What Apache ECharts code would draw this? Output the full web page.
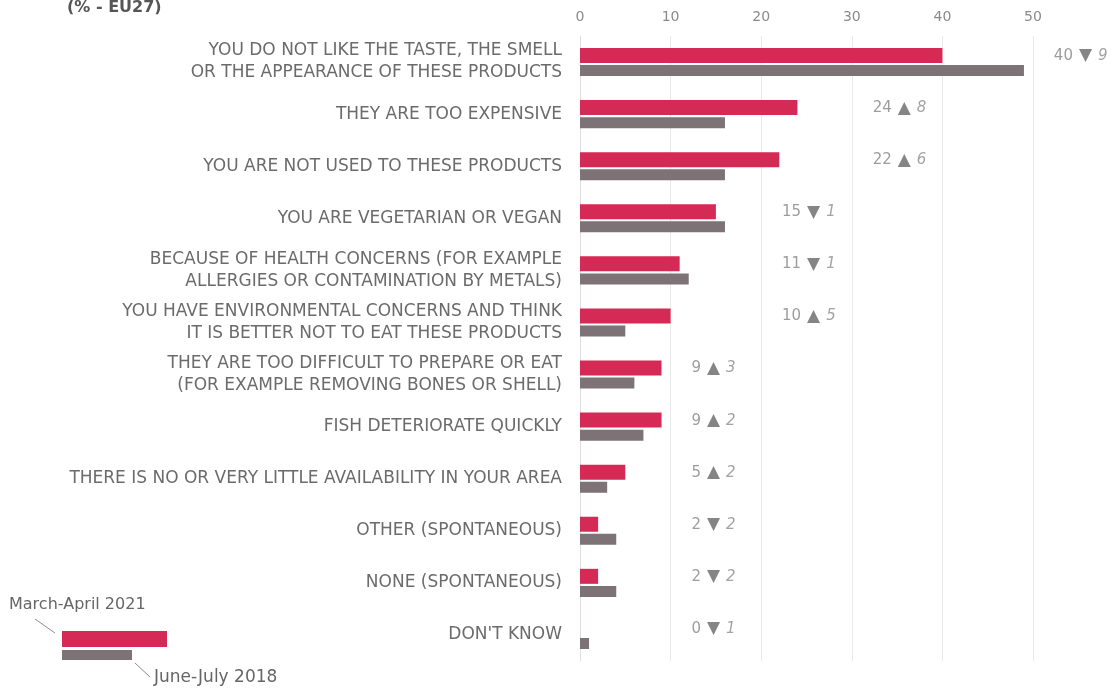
<!DOCTYPE html>
<html>
<head>
<meta charset="utf-8">
<title>Reasons for not eating fish</title>
<script src="https://cdn.jsdelivr.net/npm/echarts@6/dist/echarts.min.js"></script>
<style>
  html, body { margin: 0; padding: 0; background: #fff; }
  #chart { width: 1111px; height: 690px; }
</style>
</head>
<body>
<div id="chart"></div>
<script>
// Reasons, listed top to bottom
const categories = [
  'YOU DO NOT LIKE THE TASTE, THE SMELL\nOR THE APPEARANCE OF THESE PRODUCTS',
  'THEY ARE TOO EXPENSIVE',
  'YOU ARE NOT USED TO THESE PRODUCTS',
  'YOU ARE VEGETARIAN OR VEGAN',
  'BECAUSE OF HEALTH CONCERNS (FOR EXAMPLE\nALLERGIES OR CONTAMINATION BY METALS)',
  'YOU HAVE ENVIRONMENTAL CONCERNS AND THINK\nIT IS BETTER NOT TO EAT THESE PRODUCTS',
  'THEY ARE TOO DIFFICULT TO PREPARE OR EAT\n(FOR EXAMPLE REMOVING BONES OR SHELL)',
  'FISH DETERIORATE QUICKLY',
  'THERE IS NO OR VERY LITTLE AVAILABILITY IN YOUR AREA',
  'OTHER (SPONTANEOUS)',
  'NONE (SPONTANEOUS)',
  "DON'T KNOW"
];

// Shares in % (EU27)
const wave2021 = [40, 24, 22, 15, 11, 10, 9, 9, 5, 2, 2, 0];
const wave2018 = [49, 16, 16, 16, 12, 5, 6, 7, 3, 4, 4, 1];

// Change in percentage points since 2018 (positive = up)
const change = [-9, 8, 6, -1, -1, 5, 3, 2, 2, -2, -2, -1];

const xTicks = [0, 10, 20, 30, 40, 50];

const RED = '#d42a55';
const GREY = '#7d7377';
const FONT = '"DejaVu Sans", "Open Sans", sans-serif';

// Each annotation sits just inside the grid cell that follows the longer bar
const notePoints = categories.map((c, i) => {
  const longest = Math.max(wave2021[i], wave2018[i]);
  const cellStart = (Math.floor(longest / 10) + 1) * 10;
  return {
    value: [cellStart + 2.3, i],
    v: wave2021[i],
    d: change[i]
  };
});

const chart = echarts.init(document.getElementById('chart'));

chart.setOption({
  backgroundColor: '#ffffff',
  animation: false,
  textStyle: { fontFamily: FONT },
  grid: { left: 580, right: 78, top: 36, bottom: 29, containLabel: false },
  xAxis: {
    type: 'value',
    position: 'top',
    min: xTicks[0],
    max: xTicks[xTicks.length - 1],
    interval: 10,
    axisLine: { show: false },
    axisTick: { show: false },
    axisLabel: { color: '#8a8a8a', fontSize: 14, margin: 12, fontFamily: FONT },
    splitLine: { show: true, lineStyle: { color: '#e9e9e9', width: 1 } }
  },
  yAxis: {
    type: 'category',
    inverse: true,
    data: categories,
    axisLine: { show: true, lineStyle: { color: '#e3dcdd', width: 1 } },
    axisTick: { show: false },
    axisLabel: {
      color: '#6b6b6b',
      fontSize: 17,
      lineHeight: 22,
      margin: 18,
      align: 'right',
      fontFamily: FONT
    }
  },
  series: [
    {
      name: 'March-April 2021',
      type: 'bar',
      data: wave2021,
      barWidth: 15,
      barGap: '14%',
      itemStyle: { color: RED },
      silent: true
    },
    {
      name: 'June-July 2018',
      type: 'bar',
      data: wave2018,
      barWidth: 11,
      barGap: '14%',
      itemStyle: { color: GREY },
      silent: true
    },
    {
      name: 'notes',
      type: 'scatter',
      data: notePoints,
      symbolSize: 0,
      clip: false,
      silent: true,
      label: {
        show: true,
        position: 'right',
        distance: 0,
        offset: [0, -6],
        fontFamily: FONT,
        formatter: (p) => {
          const d = p.data.d;
          const arrow = d >= 0 ? '▲' : '▼';
          return '{v|' + p.data.v + '}{a|' + arrow + '}{d|' + Math.abs(d) + '}';
        },
        rich: {
          v: { color: '#858585', fontSize: 15, fontFamily: FONT },
          a: { color: '#666666', fontSize: 17, fontFamily: FONT, padding: [0, 6, 0, 6] },
          d: { color: '#8c8c8c', fontSize: 15, fontStyle: 'italic', fontFamily: FONT }
        }
      }
    }
  ],
  graphic: [
    {
      type: 'text',
      left: 67,
      top: 0,
      style: {
        text: '(% - EU27)',
        fill: '#555555',
        font: 'bold 16px "DejaVu Sans", sans-serif'
      }
    },
    {
      type: 'text',
      left: 9,
      top: 597,
      style: {
        text: 'March-April 2021',
        fill: '#666666',
        font: '16px "DejaVu Sans", sans-serif'
      }
    },
    {
      type: 'line',
      shape: { x1: 35, y1: 619, x2: 55, y2: 633 },
      style: { stroke: '#8c8c8c', lineWidth: 1 }
    },
    {
      type: 'rect',
      shape: { x: 62, y: 631, width: 105, height: 16 },
      style: { fill: RED }
    },
    {
      type: 'rect',
      shape: { x: 62, y: 650, width: 70, height: 10 },
      style: { fill: GREY }
    },
    {
      type: 'line',
      shape: { x1: 135, y1: 663, x2: 150, y2: 677 },
      style: { stroke: '#8c8c8c', lineWidth: 1 }
    },
    {
      type: 'text',
      left: 154,
      top: 669,
      style: {
        text: 'June-July 2018',
        fill: '#666666',
        font: '17px "DejaVu Sans", sans-serif'
      }
    }
  ]
});
</script>
</body>
</html>
